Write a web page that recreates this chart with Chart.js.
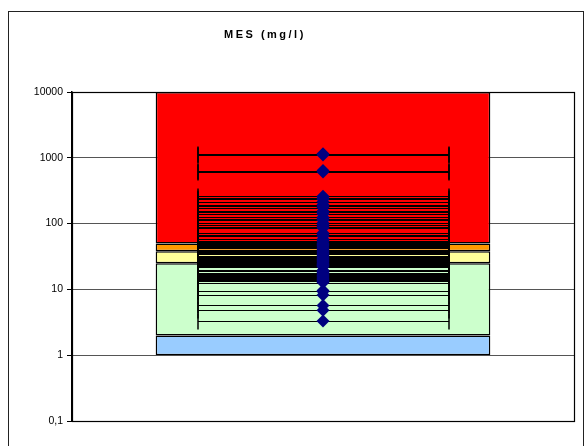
<!DOCTYPE html>
<html><head><meta charset="utf-8">
<script src="https://cdn.jsdelivr.net/npm/chart.js@4/dist/chart.umd.min.js"></script>
<style>html,body{margin:0;padding:0;background:#fff}#wrap{width:586px;height:446px;position:relative}</style>
</head><body><div id="wrap"><canvas id="c" width="586" height="446"></canvas></div>
<script>
const chartTitle = 'MES (mg/l)';
const categories = [''];
const bandNames = ['Très bonne', 'Bonne', 'Passable', 'Mauvaise', 'Très mauvaise'];
const bandLow = [1, 2, 25, 38, 50];
const bandHigh = [2, 25, 38, 50, 10000];
const bandColors = ['#99CCFF', '#CCFFCC', '#FFFF99', '#FF9900', '#FF0000'];
const yTicks = [0.1, 1, 10, 100, 1000, 10000];
const mesX = 1;
const mesXError = 0.5;
const mesValues = [1150, 1100, 640, 610, 260, 245, 235, 215, 195, 185, 175, 155, 148, 140,
  125, 118, 112, 102, 96, 90, 86, 72, 68, 64, 58, 55, 53, 50, 48, 46, 44, 42, 40, 38.5, 37,
  35.5, 34, 32.5, 31, 30, 29, 28, 27, 26, 25, 24.2, 23.5, 22.8, 22, 19.5, 18.8, 18, 17.3,
  16.6, 16, 15.4, 14.8, 14.2, 13.7, 13.2, 12.7, 9.6, 9.3, 8.2, 5.7, 4.8, 3.3];

const datasets = bandLow.map((lo, i) => ({
  type: 'bar', label: bandNames[i], data: [[lo, bandHigh[i]]],
  backgroundColor: bandColors[i], borderColor: '#000', borderWidth: 1.5, borderSkipped: false,
  grouped: false, categoryPercentage: 1, barPercentage: 2 / 3, xAxisID: 'x', order: 2
}));
datasets.push({
  type: 'scatter', label: 'MES', data: mesValues.map(v => ({ x: mesX, y: v })),
  xAxisID: 'x2', pointStyle: 'rectRot', pointRadius: 6.5, pointHoverRadius: 6.5,
  backgroundColor: '#000080', borderColor: '#000080', borderWidth: 0, order: 1, errorX: mesXError
});

const errorBars = {
  id: 'errorBars',
  beforeDatasetDraw(chart, args) {
    const ds = chart.data.datasets[args.index];
    if (ds.errorX === undefined) return;
    const meta = args.meta;
    const xs = chart.scales[meta.xAxisID];
    const ctx = chart.ctx;
    ctx.save();
    ctx.strokeStyle = '#000';
    ctx.lineWidth = 1;
    meta.data.forEach((el, i) => {
      const p = ds.data[i];
      const x0 = Math.round(xs.getPixelForValue(p.x - ds.errorX));
      const x1 = Math.round(xs.getPixelForValue(p.x + ds.errorX));
      const y = Math.round(el.y) + 0.5;
      ctx.beginPath();
      ctx.moveTo(x0, y); ctx.lineTo(x1, y);
      ctx.stroke();
      ctx.beginPath();
      ctx.lineWidth = 1.5;
      ctx.moveTo(x0, y - 8); ctx.lineTo(x0, y + 8);
      ctx.moveTo(x1, y - 8); ctx.lineTo(x1, y + 8);
      ctx.stroke();
      ctx.lineWidth = 1;
    });
    ctx.restore();
  }
};

const frame = {
  id: 'frame',
  beforeDraw(chart) {
    const ctx = chart.ctx;
    ctx.save();
    ctx.fillStyle = '#fff';
    ctx.fillRect(0, 0, chart.width, chart.height);
    ctx.strokeStyle = '#222';
    ctx.lineWidth = 1;
    ctx.strokeRect(8.5, 11.5, 575, 460);
    ctx.fillStyle = '#000';
    ctx.font = 'bold 11px Arial, "Liberation Sans", sans-serif';
    ctx.letterSpacing = '2.5px';
    ctx.textBaseline = 'middle';
    ctx.textAlign = 'left';
    ctx.fillText(chartTitle, 224, 35);
    ctx.restore();
  },
  afterDatasetsDraw(chart) {
    const a = chart.chartArea, ctx = chart.ctx;
    ctx.save();
    ctx.strokeStyle = '#000';
    ctx.lineWidth = 1.2;
    ctx.strokeRect(Math.round(a.left) + 0.5, Math.round(a.top) + 0.5, Math.round(a.right - a.left), Math.round(a.bottom - a.top));
    ctx.restore();
  }
};

new Chart(document.getElementById('c'), {
  type: 'bar',
  data: { labels: categories, datasets },
  plugins: [errorBars, frame],
  options: {
    responsive: false, animation: false, devicePixelRatio: 1,
    layout: { padding: { top: 92, right: 12, bottom: 25, left: 0 } },
    plugins: { legend: { display: false }, tooltip: { enabled: false }, title: { display: false } },
    scales: {
      x: { type: 'category', display: false, offset: true, grid: { display: false } },
      x2: { type: 'linear', display: false, min: 0, max: 2, offset: false, grid: { offset: false } },
      y: {
        type: 'logarithmic', min: 0.1, max: 10000,
        afterBuildTicks: s => { s.ticks = yTicks.map(v => ({ value: v })); },
        afterFit: s => { s.width = 72; },
        ticks: {
          autoSkip: false, color: '#000', padding: 4,
          font: { family: 'Arial, "Liberation Sans", sans-serif', size: 10.5 },
          callback: v => String(v).replace('.', ',')
        },
        grid: { color: '#555', lineWidth: 1, tickLength: 5, tickColor: '#000' },
        border: { color: '#000', width: 1.5 }
      }
    }
  }
});
</script></body></html>
